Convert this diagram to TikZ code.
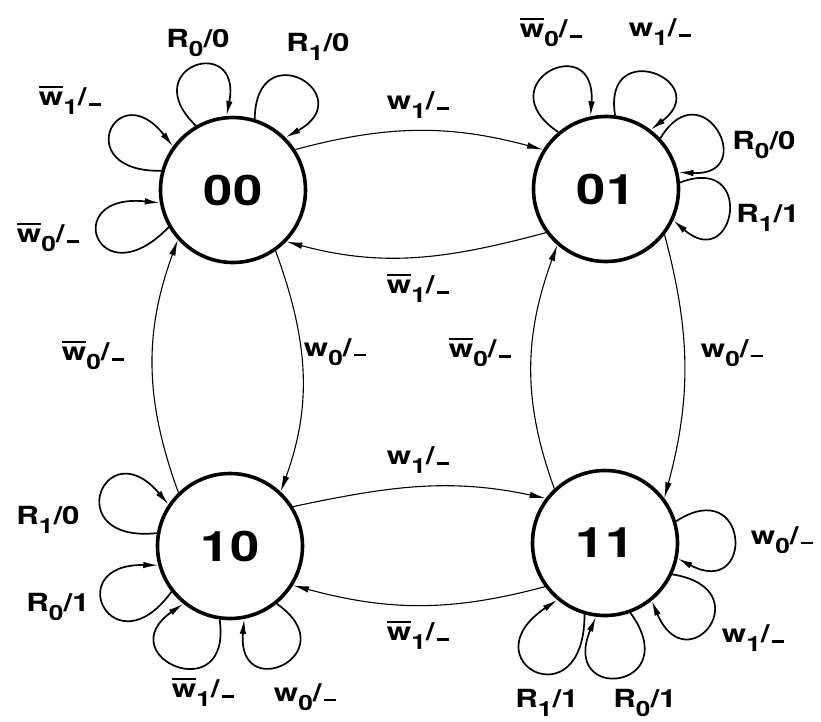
\documentclass[tikz,border=0pt]{standalone}
\usepackage{fontspec}
\setmainfont{TeX Gyre Heros}
\newfontfamily\lblfam[FakeStretch=1.25]{TeX Gyre Heros}
\usetikzlibrary{arrows.meta}

% label fonts
\newcommand\lblfont{\lblfam\bfseries\fontsize{25}{25}\selectfont}
\newcommand\statefont{\lblfam\bfseries\fontsize{42}{42}\selectfont}
% lowered, slightly smaller index
\newcommand\sbs[1]{\raisebox{-0.35em}{\fontsize{21}{21}\selectfont#1}}
% w with a bar over it
\newcommand\wbar{\leavevmode\setbox0\hbox{w}\rlap{\rule[0.7em]{\wd0}{0.1em}}\box0}
% low dash used as "don't care" output
\newcommand\dsh{\kern0.08em\rule{0.5em}{0.1em}}

% self loop: node, leaving angle, entering angle, control distance
\newcommand\selfloop[4]{\draw[loopline] (#1.#2) .. controls +({#2+16}:#4) and +({#3-16}:#4) .. (#1.#3);}

\tikzset{
  state/.style={circle, draw, line width=3.6pt, minimum size=145pt, inner sep=0pt, font=\statefont},
  lbl/.style={inner sep=0pt, font=\lblfont},
  trans/.style={line width=1.1pt, -{Latex[length=16pt,width=6.5pt]}},
  loopline/.style={line width=1.7pt, -{Latex[length=15pt,width=6.5pt]}},
}

\begin{document}
\begin{tikzpicture}[x=1pt,y=1pt]
\useasboundingbox (0,0) rectangle (821,-721);

% states
\node[state] (n00) at (233,-190) {00};
\node[state] (n01) at (606,-189) {01};
\node[state] (n10) at (230,-546) {10};
\node[state] (n11) at (605,-543) {11};

% transitions between states
\draw[trans] (n00.33)  to[out=15,in=165]  (n01.148);
\draw[trans] (n01.216) to[out=195,in=345] (n00.316);
\draw[trans] (n00.305) to[out=290,in=70]  (n10.47);
\draw[trans] (n10.134) to[out=110,in=250] (n00.222);
\draw[trans] (n01.322) to[out=285,in=75]  (n11.37);
\draw[trans] (n11.133) to[out=110,in=250] (n01.229);
\draw[trans] (n10.32)  to[out=12,in=168]  (n11.143);
\draw[trans] (n11.216) to[out=195,in=345] (n10.328);

% self loops
\selfloop{n00}{120}{95}{85}
\selfloop{n00}{73}{45}{87}
\selfloop{n00}{165}{144}{92}
\selfloop{n00}{210}{190}{102}

\selfloop{n01}{130}{102}{88}
\selfloop{n01}{83}{53}{81}
\selfloop{n01}{43}{13}{82}
\selfloop{n01}{5}{335}{82}

\selfloop{n10}{170}{146}{99}
\selfloop{n10}{218}{195}{99}
\selfloop{n10}{262}{231}{92}
\selfloop{n10}{309}{281}{87}

\selfloop{n11}{17}{348}{88}
\selfloop{n11}{335}{309}{91}
\selfloop{n11}{254}{230}{109}
\selfloop{n11}{290}{263}{95}

% transition labels
\node[lbl] (l0001) at (418,-105) {w\sbs{1}/\dsh};
\node[lbl] (l0100) at (418,-288) {\wbar\sbs{1}/\dsh};
\node[lbl] (l1000) at (93,-355)  {\wbar\sbs{0}/\dsh};
\node[lbl] (l0010) at (335,-352) {w\sbs{0}/\dsh};
\node[lbl] (l1101) at (480,-352) {\wbar\sbs{0}/\dsh};
\node[lbl] (l0111) at (732,-353) {w\sbs{0}/\dsh};
\node[lbl] (l1011) at (418,-460) {w\sbs{1}/\dsh};
\node[lbl] (l1110) at (418,-635) {\wbar\sbs{1}/\dsh};

% loop labels, state 00
\node[lbl] (a1) at (198,-43)  {R\sbs{0}/0};
\node[lbl] (a2) at (318,-47)  {R\sbs{1}/0};
\node[lbl] (a3) at (70,-100)  {\wbar\sbs{1}/\dsh};
\node[lbl] (a4) at (48,-237)  {\wbar\sbs{0}/\dsh};
% state 01
\node[lbl] (b1) at (551,-32)  {\wbar\sbs{0}/\dsh};
\node[lbl] (b2) at (660,-32)  {w\sbs{1}/\dsh};
\node[lbl] (b3) at (764,-145) {R\sbs{0}/0};
\node[lbl] (b4) at (768,-218) {R\sbs{1}/1};
% state 10
\node[lbl] (c1) at (48,-520)  {R\sbs{1}/0};
\node[lbl] (c2) at (58,-607)  {R\sbs{0}/1};
\node[lbl] (c3) at (203,-692) {\wbar\sbs{1}/\dsh};
\node[lbl] (c4) at (305,-697) {w\sbs{0}/\dsh};
% state 11
\node[lbl] (d1) at (782,-540) {w\sbs{0}/\dsh};
\node[lbl] (d2) at (753,-638) {w\sbs{1}/\dsh};
\node[lbl] (d3) at (547,-703) {R\sbs{1}/1};
\node[lbl] (d4) at (645,-703) {R\sbs{0}/1};
\end{tikzpicture}
\end{document}
